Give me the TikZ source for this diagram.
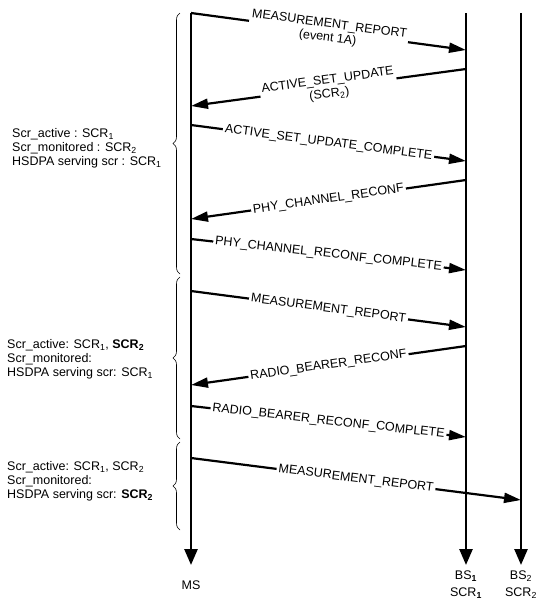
\documentclass[tikz,border=0pt]{standalone}
\usepackage{fontspec}
\setmainfont{Liberation Sans}
\usetikzlibrary{arrows.meta,decorations.pathreplacing,positioning}
\newcommand{\msgfont}{\fontsize{12.5}{14}\selectfont}
\tikzset{
lifeline/.style={
  line width=2.6pt,
  -{Triangle[length=16pt,width=13pt]}
  }
}
\tikzset{
msgline/.style={
  line width=2.2pt,
  -{Triangle[length=17pt,width=10pt]}
  }
}
\tikzset{
msglabel/.style={
  sloped,
  fill=white,
  inner sep=2pt,
  align=center,
  font=\msgfont
  }
}
\tikzset{
statetext/.style={
  anchor=west,
  inner sep=0pt,
  align=left,
  font=\msgfont
  }
}
\tikzset{
statebrace/.style={
  line width=0.6pt,
  decorate,
  decoration={brace, amplitude=7pt}
  }
}

\begin{document}
\begin{tikzpicture}[x=1pt,y=-1pt]
    \useasboundingbox (0,0) rectangle (542,603);

    % lifelines
    \coordinate (ms top) at (191,13);
    \coordinate (ms end) at (191,565);
    \coordinate (bs1 top) at (466,13);
    \coordinate (bs1 end) at (466,565);
    \coordinate (bs2 top) at (521,13);
    \coordinate (bs2 end) at (521,565);
    \draw[lifeline] (ms top) -- (ms end);
    \draw[lifeline] (bs1 top) -- (bs1 end);
    \draw[lifeline] (bs2 top) -- (bs2 end);

    \node[font=\msgfont] (ms) at (191,585) {MS};
    \node[font=\msgfont, align=center] (bs1) at (466,585) {BS\textsubscript{\textbf{1}}\\[3pt]SCR\textsubscript{\textbf{1}}};
    \node[font=\msgfont, align=center] (bs2) at (521,585) {BS\textsubscript{2}\\[3pt]SCR\textsubscript{2}};

    % message ends
    \coordinate (a1) at (191,13);  \coordinate (b1) at (466,50);
    \coordinate (b2) at (466,69);  \coordinate (a2) at (191,106);
    \coordinate (a3) at (191,125); \coordinate (b3) at (466,161);
    \coordinate (b4) at (466,180); \coordinate (a4) at (191,219);
    \coordinate (a5) at (191,239); \coordinate (b5) at (466,270);
    \coordinate (a6) at (191,291); \coordinate (b6) at (466,327);
    \coordinate (b7) at (466,346); \coordinate (a7) at (191,385);
    \coordinate (a8) at (191,406); \coordinate (b8) at (466,437);
    \coordinate (a9) at (191,458); \coordinate (c9) at (521,500);

    % messages
    \draw[msgline] (a1) -- node[msglabel] (m1) {MEASUREMENT\_REPORT\\(event 1A)} (b1);
    \draw[msgline] (b2) -- node[msglabel] (m2) {ACTIVE\_SET\_UPDATE\\(SCR\textsubscript{2})} (a2);
    \draw[msgline] (a3) -- node[msglabel] (m3) {ACTIVE\_SET\_UPDATE\_COMPLETE} (b3);
    \draw[msgline] (b4) -- node[msglabel] (m4) {PHY\_CHANNEL\_RECONF} (a4);
    \draw[msgline] (a5) -- node[msglabel] (m5) {PHY\_CHANNEL\_RECONF\_COMPLETE} (b5);
    \draw[msgline] (a6) -- node[msglabel] (m6) {MEASUREMENT\_REPORT} (b6);
    \draw[msgline] (b7) -- node[msglabel] (m7) {RADIO\_BEARER\_RECONF} (a7);
    \draw[msgline] (a8) -- node[msglabel] (m8) {RADIO\_BEARER\_RECONF\_COMPLETE} (b8);
    \draw[msgline] (a9) -- node[msglabel] (m9) {MEASUREMENT\_REPORT} (c9);

    % states
    \draw[statebrace] (180,274) -- (180,13);
    \draw[statebrace] (180,439) -- (180,277);
    \draw[statebrace] (180,530) -- (180,442);

    \node[statetext] (state1) at (12,148) {Scr\_active : SCR\textsubscript{1}\\Scr\_monitored : SCR\textsubscript{2}\\HSDPA serving scr : SCR\textsubscript{1}};
    \node[statetext] (state2) at (7,359) {Scr\_active: SCR\textsubscript{1}, \textbf{SCR\textsubscript{2}}\\Scr\_monitored:\\HSDPA serving scr: SCR\textsubscript{1}};
    \node[statetext] (state3) at (7,481) {Scr\_active: SCR\textsubscript{1}, SCR\textsubscript{2}\\Scr\_monitored:\\HSDPA serving scr: \textbf{SCR\textsubscript{2}}};
\end{tikzpicture}
\end{document}
